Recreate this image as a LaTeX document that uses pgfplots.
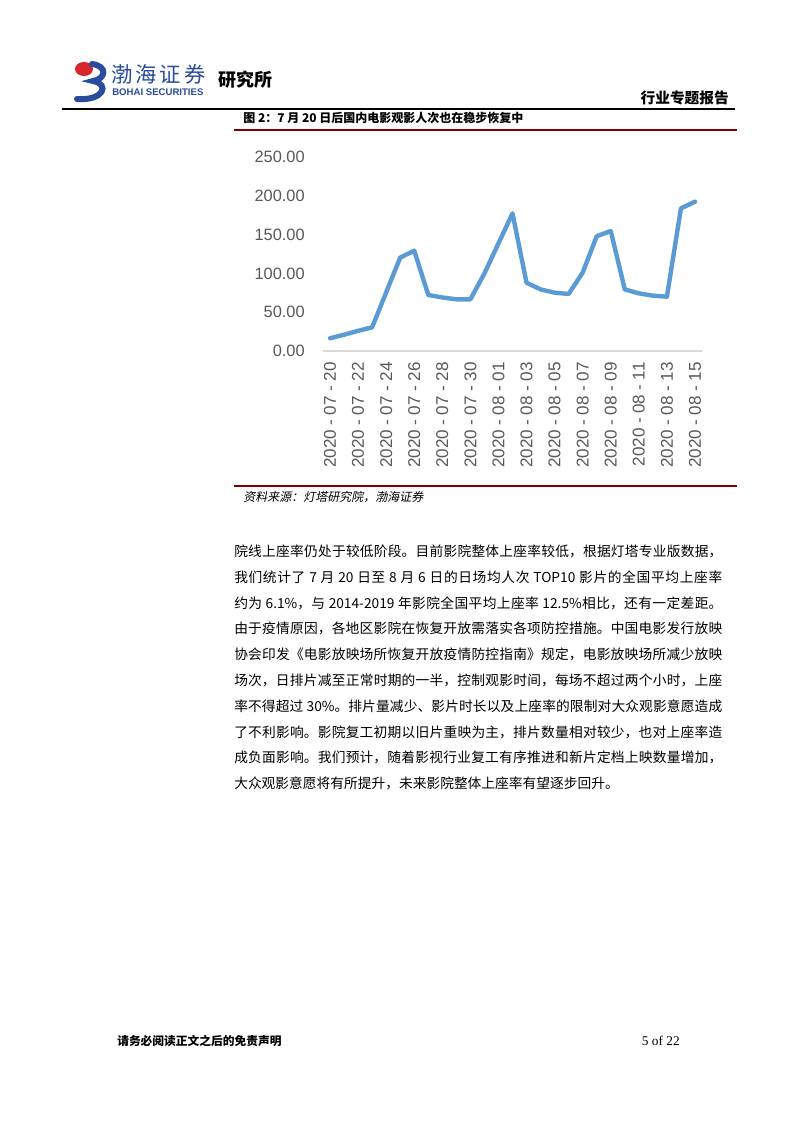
\documentclass[border=0pt]{standalone}
\usepackage{fontspec}
\usepackage{pgfplots}
\pgfplotsset{compat=1.18}
\setmainfont{Liberation Sans}
\newfontfamily\cjk{Noto Sans CJK SC}
\newfontfamily\cjkit[FakeSlant=0.2]{Noto Sans CJK SC}
\newfontfamily\timesf{Liberation Serif}
\XeTeXlinebreaklocale "zh"
\XeTeXlinebreakskip=0pt plus 1pt

\definecolor{lineblue}{HTML}{5B9BD5}
\definecolor{darkred}{HTML}{7F0000}
\definecolor{ticktext}{HTML}{595959}
\definecolor{axisgray}{HTML}{D9D9D9}
\definecolor{logoblue}{HTML}{2A4C9C}
\definecolor{logored}{HTML}{D7262E}

\newcommand\dlab[2]{2020\kern3.4pt-\kern3.4pt#1\kern3.4pt-\kern3.4pt#2}
% one justified body line, baseline at y (pixels)
\newcommand\bodyline[2]{\node[anchor=base west, inner sep=0pt] at (234,#1)
  {\parbox[t]{366pt}{\cjk\fontsize{10.3}{12}\selectfont\tolerance=10000\parfillskip=0pt #2\par}};}

\begin{document}
\begin{tikzpicture}
\begin{scope}[x=0.75pt, y=-0.75pt]
  \fill[white] (0,0) rectangle (793,1122);

  % header
  \fill[logored] (84,69) ellipse (9 and 7);
  \draw[logoblue, line width=4.5pt, line cap=round]
    (92,64) .. controls (108,66) and (106,79) .. (93,81)
            .. controls (110,84) and (104,101) .. (77,99);
  \node[anchor=west, inner sep=0pt, text=logoblue] at (111,74)
    {\cjk\fontsize{16}{18}\selectfont 渤\kern2.2pt 海\kern2.2pt 证\kern2.2pt 券};
  \node[anchor=west, inner sep=0pt, text=logoblue] at (112,92)
    {\fontsize{7.2}{8}\selectfont\bfseries BOHAI SECURITIES};
  \node[anchor=west, inner sep=0pt] at (218,80)
    {\cjk\fontsize{13.5}{15}\selectfont\bfseries 研究所};
  \node[anchor=east, inner sep=0pt] at (729,98)
    {\cjk\fontsize{11}{13}\selectfont\bfseries 行业专题报告};
  \draw[black, line width=0.8pt] (62,109) -- (735,109);

  % figure caption and frame
  \node[anchor=west, inner sep=0pt] at (243,118)
    {\cjk\fontsize{9}{11}\selectfont\bfseries 图 2：7 月 20 日后国内电影观影人次也在稳步恢复中};
  \draw[darkred, line width=2pt] (234,130) -- (737,130);
  \draw[darkred, line width=2pt] (234,486) -- (737,486);
  \node[anchor=west, inner sep=0pt] at (243,497)
    {\cjkit\fontsize{9}{11}\selectfont 资料来源：灯塔研究院，渤海证券};

  % body text
  \bodyline{556.5}{院线上座率仍处于较低阶段。目前影院整体上座率较低，根据灯塔专业版数据，}
  \bodyline{582.3}{我们统计了 7 月 20 日至 8 月 6 日的日场均人次 TOP10 影片的全国平均上座率}
  \bodyline{608.1}{约为 6.1\%，与 2014-2019 年影院全国平均上座率 12.5\%相比，还有一定差距。}
  \bodyline{633.9}{由于疫情原因，各地区影院在恢复开放需落实各项防控措施。中国电影发行放映}
  \bodyline{659.7}{协会印发《电影放映场所恢复开放疫情防控指南》规定，电影放映场所减少放映}
  \bodyline{685.5}{场次，日排片减至正常时期的一半，控制观影时间，每场不超过两个小时，上座}
  \bodyline{711.3}{率不得超过 30\%。排片量减少、影片时长以及上座率的限制对大众观影意愿造成}
  \bodyline{737.1}{了不利影响。影院复工初期以旧片重映为主，排片数量相对较少，也对上座率造}
  \bodyline{762.9}{成负面影响。我们预计，随着影视行业复工有序推进和新片定档上映数量增加，}
  \node[anchor=base west, inner sep=0pt] at (234,788.7)
    {\cjk\fontsize{10.3}{12}\selectfont 大众观影意愿将有所提升，未来影院整体上座率有望逐步回升。};

  % footer
  \node[anchor=west, inner sep=0pt] at (117,1041)
    {\cjk\fontsize{8.8}{10}\selectfont\bfseries 请务必阅读正文之后的免责声明};
  \node[anchor=east, inner sep=0pt] at (680,1041)
    {\timesf\fontsize{10}{12}\selectfont 5 of 22};
\end{scope}

\begin{axis}[
    at={(242.25pt,-263.25pt)}, anchor=south west,
    scale only axis,
    width=284.25pt, height=145.5pt,
    xmin=-0.5, xmax=26.5,
    ymin=0, ymax=250,
    axis x line*=bottom, axis y line*=left,
    x axis line style={draw=axisgray, line width=1.5pt},
    y axis line style={draw=none},
    major tick length=0pt,
    ytick={0,50,...,250},
    xtick={0,2,...,26},
    xticklabels={\dlab{07}{20},\dlab{07}{22},\dlab{07}{24},\dlab{07}{26},
                 \dlab{07}{28},\dlab{07}{30},\dlab{08}{01},\dlab{08}{03},
                 \dlab{08}{05},\dlab{08}{07},\dlab{08}{09},\dlab{08}{11},
                 \dlab{08}{13},\dlab{08}{15}},
    tick label style={font=\fontsize{12.3}{14}\selectfont, text=ticktext},
    yticklabel style={anchor=east, inner sep=0pt, xshift=-13.5pt,
        /pgf/number format/.cd, fixed, fixed zerofill, precision=2,
        assume math mode=true},
    xticklabel style={font=\fontsize{12.8}{14}\selectfont,
        rotate=90, anchor=east, inner sep=0pt, xshift=-8.25pt},
    clip=false,
]
\addplot[color=lineblue, line width=3.3pt, line join=round, line cap=round]
  coordinates {
    (0,16.4) (1,21) (2,26) (3,30.5) (4,75.5) (5,120.3) (6,129.3)
    (7,72.2) (8,69) (9,66.6) (10,66.6) (11,100) (12,138.7) (13,177.4)
    (14,88) (15,79.4) (16,75.2) (17,73.5) (18,101) (19,148) (20,154.6)
    (21,79.4) (22,74.3) (23,71.3) (24,70) (25,183.8) (26,192.4)
  };
\end{axis}
\end{tikzpicture}
\end{document}
